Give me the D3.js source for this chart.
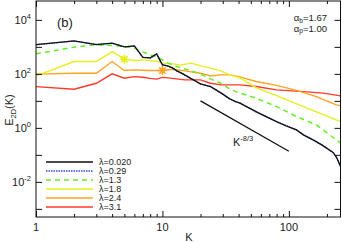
<!DOCTYPE html>
<html>
<head>
<meta charset="utf-8">
<script src="https://cdn.jsdelivr.net/npm/d3@7"></script>
<style>
  body { margin: 0; background: #fff; }
  text { font-family: "Liberation Sans", Arial, sans-serif; fill: #222; }
</style>
</head>
<body>
<div id="chart"></div>
<script>
// wavenumbers where the spectra were read
let kA = [1, 2, 3, 4, 5, 6, 7, 8, 9, 10, 11, 12, 13, 14, 15, 17, 20, 24, 29, 34, 38, 41, 55, 64, 80, 95, 115, 130, 165, 187, 225, 240, 256];
let eL0020 = [1217, 1668, 1217, 1371, 1000, 1089, 408, 391, 550, 215, 198, 167, 129, 109, 92, 65, 42.6, 33.8, 19.8, 11.9, 9.4, 8.2, 4.0, 2.8, 1.7, 1.19, 0.84, 0.55, 0.31, 0.215, 0.12, 0.075, 0.037];
let eL029 = [1200, 1640, 1230, 1350, 1010, 1070, 415, 385, 540, 218, 195, 170, 127, 111, 90, 66, 42, 34.5, 19.5, 12.2, 9.2, 8.4, 3.9, 2.9, 1.65, 1.22, 0.82, 0.57, 0.30, 0.22, 0.118, 0.078, 0.04];

let kB = [1, 2, 3, 4, 5, 6, 7, 8, 9, 10, 11, 12, 14, 17, 20, 24, 27, 29, 34, 38, 55, 80, 115, 165, 237, 256];
let eL13 = [550, 975, 1186, 1117, 1026, 895, 653, 506, 426, 330, 255, 215, 167, 129, 100, 65, 52, 45, 27.8, 22, 12.6, 6.15, 2.62, 1.29, 0.36, 0.28];

let kC = [1, 2, 3, 4, 5, 6, 7, 8, 9, 10, 12, 14, 17, 20, 24, 29, 34, 41, 55, 80, 115, 165, 256];
let eL18 = [84, 286, 286, 670, 350, 311, 330, 311, 290, 249, 234, 215, 249, 198, 163, 129, 92, 71, 31, 15.6, 7.7, 3.9, 1.71];

let kD = [1, 2, 3, 4, 5, 6, 7, 8, 10, 12, 15, 20, 24, 29, 34, 41, 55, 80, 115, 165, 237, 256];
let eL24 = [97.5, 106, 106, 286, 133, 141, 136, 133, 133, 149, 129, 106, 84, 92, 92, 77, 52, 37.5, 24.5, 14.4, 7.1, 6.7];

let kE = [1, 2, 3, 4, 5, 6, 7, 8, 9, 10, 12, 15, 20, 24, 29, 41, 55, 80, 130, 187, 256];
let eL31 = [33.8, 27.1, 45, 100, 69, 79, 75, 68, 64, 74, 68, 60, 60, 45, 39, 39, 34, 25.5, 22, 19.3, 15.3];

let seriesNames = ["\u03bb=0.020", "\u03bb=0.29", "\u03bb=1.3", "\u03bb=1.8", "\u03bb=2.4", "\u03bb=3.1"];

// reference slope K^-8/3
let refK = [20, 100];
let refE = [10.0, 0.137];

// star markers
let starK = [5, 10];
let starE = [350, 133];

let xTicks = [1, 10, 100];
let yTickPowers = [4, 2, 0, -2];

let W = 342, H = 242;
let mLeft = 36, mRight = 340.5, mTop = 1, mBottom = 217;

let svg = d3.select("#chart").append("svg")
    .attr("width", W).attr("height", H);

let x = d3.scaleLog().domain([1, 256]).range([mLeft, mRight]);
let y = d3.scaleLog().domain([5e-4, 5e4]).range([mBottom, mTop]);

let series = [
    { k: kA, e: eL0020, color: "#111111", dash: null, w: 1.3 },
    { k: kA, e: eL029, color: "#2a4cf0", dash: "1.5,1", w: 1.3 },
    { k: kB, e: eL13, color: "#66ee22", dash: "5,4", w: 1.5 },
    { k: kC, e: eL18, color: "#e3f01a", dash: null, w: 1.4 },
    { k: kD, e: eL24, color: "#ffa321", dash: null, w: 1.4 },
    { k: kE, e: eL31, color: "#ff3a2a", dash: null, w: 1.4 }
];

svg.append("defs").append("clipPath").attr("id", "clip")
    .append("rect").attr("x", mLeft).attr("y", mTop)
    .attr("width", mRight - mLeft).attr("height", mBottom - mTop);

let line = d3.line().x(d => x(d[0])).y(d => y(d[1]));

let g = svg.append("g").attr("clip-path", "url(#clip)");

// draw red first so dark ones sit on top
series.slice().reverse().forEach(s => {
    g.append("path")
        .datum(s.k.map((k, i) => [k, s.e[i]]))
        .attr("d", line)
        .attr("fill", "none")
        .attr("stroke", s.color)
        .attr("stroke-width", s.w)
        .attr("stroke-dasharray", s.dash);
});

// stars
let starColors = ["#e3f01a", "#ffa321"];
starK.forEach((k, i) => {
    let cx = x(k), cy = y(starE[i]), r = 4.5;
    let p = "";
    for (let a = 0; a < 4; a++) {
        let ang = a * Math.PI / 4;
        p += "M" + (cx - r * Math.cos(ang)) + "," + (cy - r * Math.sin(ang)) +
             "L" + (cx + r * Math.cos(ang)) + "," + (cy + r * Math.sin(ang));
    }
    g.append("path").attr("d", p).attr("stroke", starColors[i]).attr("stroke-width", 1.6);
});

// K^-8/3 line
g.append("path")
    .datum(refK.map((k, i) => [k, refE[i]]))
    .attr("d", line)
    .attr("stroke", "#111").attr("stroke-width", 1.2).attr("fill", "none");

svg.append("text").attr("x", 233).attr("y", 146).attr("font-size", 11)
    .text("K")
    .append("tspan").attr("font-size", 7.5).attr("dy", -5).text("-8/3");

// frame
svg.append("rect")
    .attr("x", mLeft).attr("y", mTop)
    .attr("width", mRight - mLeft).attr("height", mBottom - mTop)
    .attr("fill", "none").attr("stroke", "#111").attr("stroke-width", 1);

// axes ticks (inward)
let decades = d3.range(-3, 5).map(p => Math.pow(10, p));
let xMinor = [];
[1, 10, 100].forEach(d => { for (let m = 2; m <= 9; m++) if (d * m <= 256) xMinor.push(d * m); });

function tickStyle(sel) {
    sel.select(".domain").remove();
    sel.selectAll("line").attr("stroke", "#111").attr("stroke-width", 1);
    sel.selectAll("text").remove();
}

svg.append("g").attr("transform", "translate(" + mLeft + ",0)")
    .call(d3.axisLeft(y).tickValues(decades).tickSize(-6)).call(tickStyle);
svg.append("g").attr("transform", "translate(" + mRight + ",0)")
    .call(d3.axisRight(y).tickValues(decades).tickSize(-6)).call(tickStyle);
svg.append("g").attr("transform", "translate(0," + mBottom + ")")
    .call(d3.axisBottom(x).tickValues(xTicks).tickSize(-6)).call(tickStyle);
svg.append("g").attr("transform", "translate(0," + mBottom + ")")
    .call(d3.axisBottom(x).tickValues(xMinor).tickSize(-3)).call(tickStyle);
svg.append("g").attr("transform", "translate(0," + mTop + ")")
    .call(d3.axisTop(x).tickValues(xTicks).tickSize(-6)).call(tickStyle);
svg.append("g").attr("transform", "translate(0," + mTop + ")")
    .call(d3.axisTop(x).tickValues(xMinor).tickSize(-3)).call(tickStyle);

// tick labels
xTicks.forEach(t => {
    svg.append("text").attr("x", x(t)).attr("y", 231)
        .attr("text-anchor", "middle").attr("font-size", 11).text(t);
});
yTickPowers.forEach(p => {
    let tx = svg.append("text").attr("x", 31).attr("y", y(Math.pow(10, p)) + 4)
        .attr("text-anchor", "end").attr("font-size", 11).text("10");
    tx.append("tspan").attr("dy", -5).attr("font-size", 7.5).text(p);
});

// axis titles
svg.append("text").attr("x", 189).attr("y", 241)
    .attr("text-anchor", "middle").attr("font-size", 11).text("K");
let yl = svg.append("text")
    .attr("transform", "translate(13,110) rotate(-90)")
    .attr("text-anchor", "middle").attr("font-size", 11).text("E");
yl.append("tspan").attr("font-size", 7.5).attr("dy", 3).text("2D");
yl.append("tspan").attr("dy", -3).text("(K)");

// panel label and parameters
svg.append("text").attr("x", 57).attr("y", 27).attr("font-size", 13).text("(b)");
let a1 = svg.append("text").attr("x", 327).attr("y", 21).attr("text-anchor", "end").attr("font-size", 9.5).text("\u03b1");
a1.append("tspan").attr("font-size", 6.5).attr("dy", 1.5).text("b");
a1.append("tspan").attr("dy", -1.5).text("=1.67");
let a2 = svg.append("text").attr("x", 327).attr("y", 31.5).attr("text-anchor", "end").attr("font-size", 9.5).text("\u03b1");
a2.append("tspan").attr("font-size", 6.5).attr("dy", 1.5).text("p");
a2.append("tspan").attr("dy", -1.5).text("=1.00");

// legend
let leg = svg.append("g");
series.forEach((s, i) => {
    let ly = 162 + i * 9;
    leg.append("line").attr("x1", 46).attr("x2", 93).attr("y1", ly).attr("y2", ly)
        .attr("stroke", s.color).attr("stroke-width", s.w).attr("stroke-dasharray", s.dash);
    leg.append("text").attr("x", 99).attr("y", ly + 3.2).attr("font-size", 9).text(seriesNames[i]);
});
</script>
</body>
</html>
